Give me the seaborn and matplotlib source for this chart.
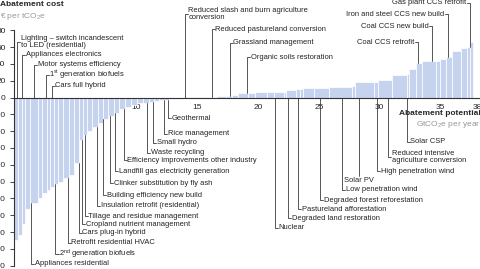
import numpy as np
import seaborn as sns
import matplotlib
matplotlib.use('Agg')
from matplotlib import pyplot as plt

# bar widths (GtCO2e per year) and abatement cost (EUR per tCO2e), left to right
widths = [0.33, 0.33, 0.27, 0.4, 0.6, 0.35, 0.4, 0.3, 0.3, 0.35, 0.4, 0.45, 0.45, 0.4,
          0.35, 0.3, 0.4, 0.5, 0.4, 0.45, 0.45, 0.4, 0.5, 0.5, 0.5, 0.5, 0.5, 0.4, 0.4,
          0.4, 0.4, 0.5, 0.5, 0.4,
          0.4, 0.5, 0.5, 0.6, 0.6, 0.7, 0.5, 0.45, 0.9, 0.5, 1.0, 0.6, 0.8, 0.2, 0.8,
          0.3, 0.3, 0.9, 1.2, 1.9, 0.2, 1.6, 0.3, 1.2, 1.2, 0.2, 0.5, 0.5, 1.2, 0.3,
          0.5, 0.5, 0.7, 0.5, 0.3, 0.2]
costs = [-170, -163, -150, -133, -125, -120, -114, -110, -106, -103, -100, -96, -92, -78,
         -50, -45, -40, -35, -30, -26, -22, -18, -14, -11, -9, -7, -6, -5, -4,
         -3, -2.5, -2, -1.5, -1,
         0.5, 0.6, 0.8, 1.0, 1.2, 1.5, 2, 3.5, 5, 5.5, 6.5, 6.5, 6.8, 7, 9,
         10.5, 10.5, 11, 11.5, 13, 14, 18.5, 19, 21, 27, 28, 34, 41, 43, 43,
         46, 48, 55, 59, 60, 66]

# labels whose leader goes up, text to the right
up_names = ['Lighting – switch incandescent\nto LED (residential)', 'Appliances electronics',
            'Motor systems efficiency', '1$^{st}$ generation biofuels', 'Cars full hybrid',
            'Reduced slash and burn agriculture\nconversion', 'Reduced pastureland conversion',
            'Grassland management', 'Organic soils restoration']
up_x = [0.25, 0.65, 1.64, 2.6, 3.1, 14.0, 16.2, 17.7, 19.1]
up_y = [66, 50.6, 38.7, 26.8, 13.7, 99, 81.5, 65, 48]

# labels whose leader goes up, text to the left
upl_names = ['Coal CCS retrofit', 'Coal CCS new build', 'Iron and steel CCS new build',
             'Gas plant CCS retrofit']
upl_x = [33.1, 34.3, 35.6, 37.4]
upl_y = [66, 85, 99, 113]

# labels whose leader goes down, text to the right
down_names = ['Appliances residential', '2$^{nd}$ generation biofuels', 'Retrofit residential HVAC',
              'Cars plug-in hybrid', 'Cropland nutrient management', 'Tillage and residue management',
              'Insulation retrofit (residential)', 'Building efficiency new build',
              'Clinker substitution by fly ash', 'Landfill gas electricity generation',
              'Efficiency improvements other industry', 'Waste recycling', 'Small hydro',
              'Rice management', 'Geothermal', 'Nuclear', 'Degraded land restoration',
              'Pastureland afforestation', 'Degraded forest reforestation', 'Low penetration wind',
              'High penetration wind', 'Reduced intensive\nagriculture conversion', 'Solar CSP']
down_x = [1.4, 3.4, 4.4, 5.3, 5.6, 5.8, 6.8, 7.3, 7.9, 8.3, 9.0, 10.9, 11.4, 12.3, 12.6,
          21.4, 22.5, 23.3, 25.1, 26.9, 29.8, 30.7, 32.2]
down_y = [-198, -186.5, -173, -161, -150.6, -141, -129, -116, -102, -87.5, -74.4, -65.7,
          -53.8, -43, -24.5, -155, -143.6, -133, -122, -110, -88, -70.5, -52.6]

xticks = [5, 10, 15, 20, 25, 30, 35, 38]
yticks = [-200, -180, -160, -140, -120, -100, -80, -60, -40, -20, 0, 20, 40, 60, 80]

sns.set_theme(style='white')
plt.rcParams['font.family'] = ['Liberation Sans', 'DejaVu Sans']
plt.rcParams['mathtext.fontset'] = 'custom'
plt.rcParams['mathtext.rm'] = 'Liberation Sans'
plt.rcParams['mathtext.it'] = 'Liberation Sans'
plt.rcParams['mathtext.default'] = 'rm'

fig = plt.figure(figsize=(4.81, 2.69), dpi=100)
ax = fig.add_axes([14 / 481, 0, 467 / 481, 1])

edges = np.concatenate([[0], np.cumsum(widths)])
ax.bar(edges[:-1], costs, width=widths, align='edge', color='#c6d3ef',
       edgecolor='white', linewidth=0.5, zorder=2)

ax.set_xlim(0, 38.3)
ax.set_ylim(-204, 116)

lc = '#3a3a3a'
fs = 5.4


def bar_at(x):
    i = np.searchsorted(edges, x) - 1
    return costs[i]


for name, x, y in zip(up_names, up_x, up_y):
    base = max(bar_at(x), 0)
    ax.plot([x, x, x + 0.25], [base, y, y], color=lc, lw=0.6, zorder=3)
    ax.text(x + 0.3, y, name, fontsize=fs, va='center', ha='left', color='#222222',
            linespacing=1.0)

for name, x, y in zip(upl_names, upl_x, upl_y):
    base = max(bar_at(x), 0)
    ax.plot([x, x, x - 0.25], [base, y, y], color=lc, lw=0.6, zorder=3)
    ax.text(x - 0.3, y, name, fontsize=fs, va='center', ha='right', color='#222222',
            clip_on=False)

for name, x, y in zip(down_names, down_x, down_y):
    base = min(bar_at(x), 0)
    ax.plot([x, x, x + 0.25], [base, y, y], color=lc, lw=0.6, zorder=3)
    ax.text(x + 0.3, y, name, fontsize=fs, va='center', ha='left', color='#222222',
            linespacing=1.0)

# Solar PV sits under its leader
x = 28.3
ax.plot([x, x], [min(bar_at(x), 0), -93], color=lc, lw=0.6, zorder=3)
ax.text(x, -95, 'Solar PV', fontsize=fs, va='top', ha='center', color='#222222')

# axes styling
sns.despine(ax=ax, top=True, right=True)
ax.spines['bottom'].set_position(('data', 0))
ax.spines['bottom'].set_color('#333333')
ax.spines['bottom'].set_linewidth(0.8)
ax.spines['bottom'].set_zorder(4)
ax.spines['left'].set_bounds(-200, 80)
ax.spines['left'].set_color('#333333')
ax.spines['left'].set_linewidth(0.8)
ax.set_xticks(xticks)
ax.set_xticklabels([str(v) for v in xticks], fontsize=6)
ax.tick_params(axis='x', length=0, pad=5)
ax.set_yticks(yticks)
ax.set_yticklabels([str(v) for v in yticks], fontsize=6)
ax.tick_params(axis='y', length=3, width=0.6, direction='out', pad=3, left=True)
ax.grid(False)

fig.text(0.0, 1 - 1 / 269, 'Abatement cost', fontsize=6, fontweight='bold', va='top', ha='left')
fig.text(0.0, 1 - 11 / 269, '€ per tCO$_2$e', fontsize=6, color='#999999', va='top', ha='left')
ax.text(38.3, -15, 'Abatement potential', fontsize=6, fontweight='bold', va='top', ha='right')
ax.text(38.3, -25, 'GtCO$_2$e per year', fontsize=6, color='#999999', va='top', ha='right')

fig.savefig('out.png', dpi=100)
